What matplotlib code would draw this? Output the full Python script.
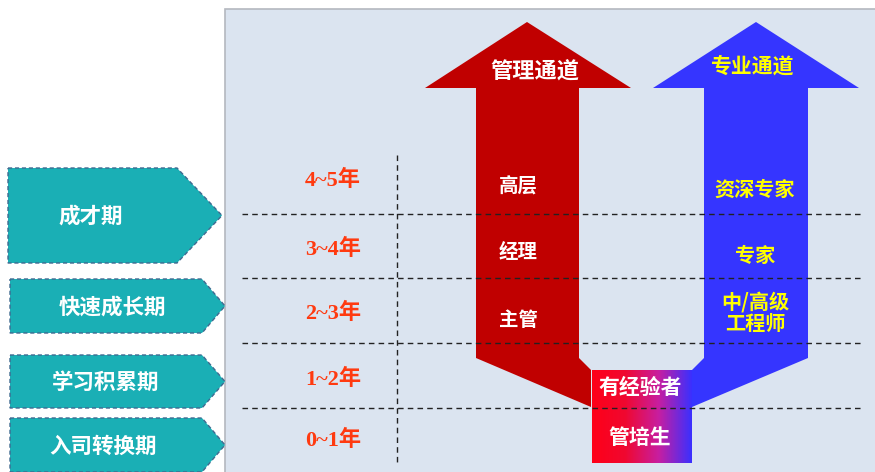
import matplotlib
matplotlib.use("Agg")
import matplotlib.pyplot as plt
from matplotlib.patches import Polygon, Rectangle
from matplotlib.colors import LinearSegmentedColormap
import numpy as np

plt.rcParams['font.family'] = ['Noto Sans CJK SC', 'DejaVu Sans']

# ---- content ----
stages = ["成才期", "快速成长期", "学习积累期", "入司转换期"]
years = ["4~5年", "3~4年", "2~3年", "1~2年", "0~1年"]
mgmt_title = "管理通道"
mgmt_levels = ["高层", "经理", "主管"]
pro_title = "专业通道"
pro_levels = ["资深专家", "专家", "中/高级\n工程师"]
base_levels = ["有经验者", "管培生"]

# ---- layout (pixel space) ----
W, H = 875, 472
row_edges = [150, 214, 278, 343, 408, 472]
fig = plt.figure(figsize=(W / 100, H / 100), dpi=100)
ax = fig.add_axes([0, 0, 1, 1])
ax.set_xlim(0, W)
ax.set_ylim(H, 0)
ax.axis("off")
fig.patch.set_facecolor("white")

# panel
ax.add_patch(Rectangle((225, 9), 660, 480, facecolor="#dbe4f0", edgecolor="#b4b8bf", lw=1.2, zorder=0))

# dashed row lines
for y in row_edges[1:5]:
    ax.plot([242, 862], [y, y], ls=(0, (4, 3)), color="#222222", lw=1.0, zorder=5)
ax.plot([397, 397], [155, 463], ls=(0, (4, 3)), color="#222222", lw=1.0, zorder=5)

# stage pentagons
teal = "#1aafb5"
boxes = [(8, 177, 222, 168, 263), (10, 202, 225, 279, 333),
         (10, 202, 225, 355, 408), (10, 202, 225, 418, 472)]
text_dx = [-2, 6, 0, -3]
for name, (x0, xr, tip, top, bot), dx in zip(stages, boxes, text_dx):
    mid = (top + bot) / 2
    pts = [(x0, top), (xr, top), (tip, mid), (xr, bot), (x0, bot)]
    ax.add_patch(Polygon(pts, closed=True, facecolor=teal, edgecolor="#3f6a90",
                         lw=1.0, ls=(0, (3, 2)), zorder=3))
    ax.text((x0 + xr) / 2 + dx, mid + 1, name, color="white", fontsize=15.5,
            fontweight="bold", ha="center", va="center", zorder=6)

# year labels
ycent = [180, 249, 313, 379, 440]
for y, t in zip(ycent, years):
    ax.text(333, y, t, color="#ff3a10", fontsize=16, fontweight="bold", ha="center", va="center",
            family=["Liberation Serif", "Noto Sans CJK SC"], zorder=6)

# red (management) arrow
red = "#c00000"
red_pts = [(527, 22), (631, 88), (579, 88), (579, 358), (591, 370), (591, 407), (476, 358), (476, 88), (425, 88)]
ax.add_patch(Polygon(red_pts, closed=True, facecolor=red, edgecolor="none", zorder=2))
# blue (professional) arrow
blue = "#3535ff"
blue_pts = [(756, 22), (859, 88), (808, 88), (808, 358), (692, 407), (692, 370), (704, 358), (704, 88), (653, 88)]
ax.add_patch(Polygon(blue_pts, closed=True, facecolor=blue, edgecolor="none", zorder=2))

# gradient box
grad = np.linspace(0, 1, 256)[None, :]
cmap = LinearSegmentedColormap.from_list("rb", ["#ff0018", "#f00830", "#c81ea0", "#3a30ff"])
ax.imshow(grad, cmap=cmap, extent=(592, 692, 463, 370), aspect="auto", zorder=3)
ax.set_xlim(0, W)
ax.set_ylim(H, 0)

ax.text(535, 71, mgmt_title, color="white", fontsize=16, fontweight="bold",
        ha="center", va="center", zorder=6)
for y, t in zip([187, 252, 320], mgmt_levels):
    ax.text(518, y, t, color="white", fontsize=14, fontweight="bold",
            ha="center", va="center", zorder=6)

ax.text(753, 66, pro_title, color="#ffff00", fontsize=15, fontweight="bold",
        ha="center", va="center", zorder=6)
for y, t in zip([189, 255, 313], pro_levels):
    ax.text(755, y, t, color="#ffff00", fontsize=14.5, fontweight="bold",
            ha="center", va="center", zorder=6, linespacing=1.05)

for y, t in zip([387, 438], base_levels):
    ax.text(640, y, t, color="white", fontsize=15, fontweight="bold",
            ha="center", va="center", zorder=6)

fig.savefig("out.png", dpi=100)
